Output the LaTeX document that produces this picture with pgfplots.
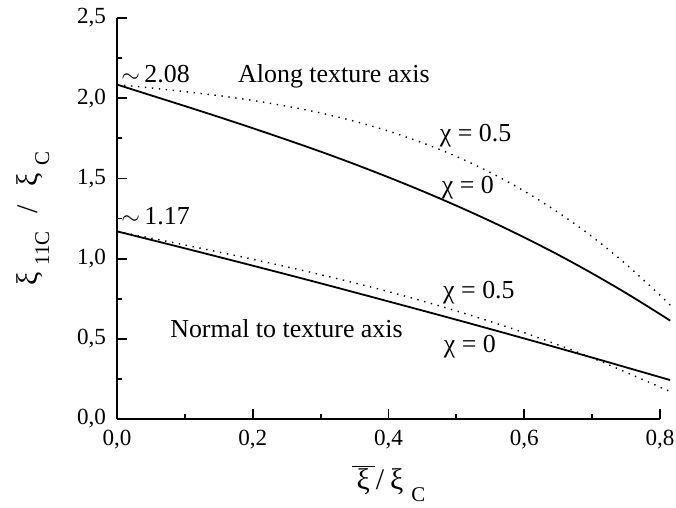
\documentclass[border=0pt]{standalone}
\usepackage{fontspec}
\setmainfont{Liberation Serif}
\usepackage{pgfplots}
\pgfplotsset{compat=1.18}
\newcommand{\sub}[1]{\raisebox{-6bp}{\fontsize{10.5}{12}\selectfont #1}}
\begin{document}
\begin{tikzpicture}
\useasboundingbox (-58.5bp,-44.5bp) rectangle (279.5bp,209.5bp);
\begin{axis}[
  at={(0,0)}, anchor=south west,
  scale only axis, width=271.5bp, height=200.5bp,
  xmin=0, xmax=0.8, ymin=0, ymax=2.5,
  axis lines*=left,
  axis line style={line width=1bp},
  clip=false,
  xtick={0,0.2,0.4,0.6,0.8}, minor xtick={0.1,0.3,0.5,0.7},
  ytick={0,0.5,1,1.5,2,2.5}, minor ytick={0.25,0.75,1.25,1.75,2.25},
  tick align=inside,
  major tick length=5bp, minor tick length=2.5bp,
  every tick/.style={black, line width=0.9bp},
  ticklabel style={font=\fontsize{11.6}{13}\selectfont},
  yticklabel style={xshift=-2bp},
  xticklabel style={yshift=-2bp},
  /pgf/number format/use comma,
  /pgf/number format/fixed,
  /pgf/number format/fixed zerofill,
  /pgf/number format/precision=1,
  /pgf/number format/assume math mode=true,
  xlabel={$\overline{\mbox{\hspace{2.5bp}ξ\hspace{2.5bp}}}$\hspace{0.5bp}/\hspace{3bp}ξ\hspace{4bp}\sub{C}},
  ylabel={ξ\hspace{3.5bp}\sub{11C}\hspace{9bp}/\hspace{9bp}ξ\hspace{4bp}\sub{C}},
  every axis x label/.style={at={(axis description cs:0.5,-0.177)}, anchor=base, font=\fontsize{15}{17}\selectfont},
  every axis y label/.style={at={(axis description cs:-0.155,0.5)}, rotate=90, anchor=center, font=\fontsize{15}{17}\selectfont},
]
% Along texture axis, chi = 0
\addplot[black, line width=0.9bp, smooth] coordinates {
(0,2.085) (0.05,2.018) (0.1,1.951) (0.15,1.883) (0.2,1.813) (0.25,1.741) (0.3,1.667) (0.35,1.589) (0.4,1.507) (0.45,1.421) (0.5,1.330) (0.55,1.234) (0.6,1.132) (0.65,1.024) (0.7,0.908) (0.75,0.785) (0.8,0.654) (0.815,0.613)};
% Along texture axis, chi = 0.5
\addplot[black, line width=0.7bp, dash pattern=on 0.7bp off 2.8bp, smooth] coordinates {
(0,2.085) (0.05,2.064) (0.1,2.041) (0.15,2.016) (0.2,1.986) (0.25,1.950) (0.3,1.908) (0.35,1.856) (0.4,1.795) (0.45,1.722) (0.5,1.637) (0.55,1.537) (0.6,1.421) (0.65,1.288) (0.7,1.137) (0.75,0.965) (0.8,0.772) (0.815,0.710)};
% Normal to texture axis, chi = 0
\addplot[black, line width=0.9bp, smooth] coordinates {
(0,1.17) (0.1,1.064) (0.2,0.956) (0.3,0.846) (0.4,0.733) (0.5,0.619) (0.6,0.502) (0.7,0.383) (0.8,0.261) (0.815,0.243)};
% Normal to texture axis, chi = 0.5
\addplot[black, line width=0.7bp, dash pattern=on 0.7bp off 2.8bp, smooth] coordinates {
(0,1.17) (0.1,1.085) (0.2,0.996) (0.3,0.900) (0.4,0.794) (0.5,0.674) (0.6,0.538) (0.7,0.381) (0.8,0.199) (0.815,0.170)};
\begin{scope}[every node/.style={font=\fontsize{13}{15}\selectfont, inner sep=0pt}]
\node[anchor=base west] at (axis cs:0.006,2.10) {$\sim$\,2.08};
\node[anchor=base west] at (axis cs:0.006,1.215) {$\sim$\,1.17};
\node[anchor=base west] at (axis cs:0.178,2.095) {Along texture axis};
\node[anchor=base west] at (axis cs:0.078,0.505) {Normal to texture axis};
\node[anchor=base west] at (axis cs:0.475,1.729) {χ = 0.5};
\node[anchor=base west] at (axis cs:0.478,1.407) {χ = 0};
\node[anchor=base west] at (axis cs:0.48,0.752) {χ = 0.5};
\node[anchor=base west] at (axis cs:0.481,0.413) {χ = 0};
\end{scope}
\end{axis}
\end{tikzpicture}
\end{document}
